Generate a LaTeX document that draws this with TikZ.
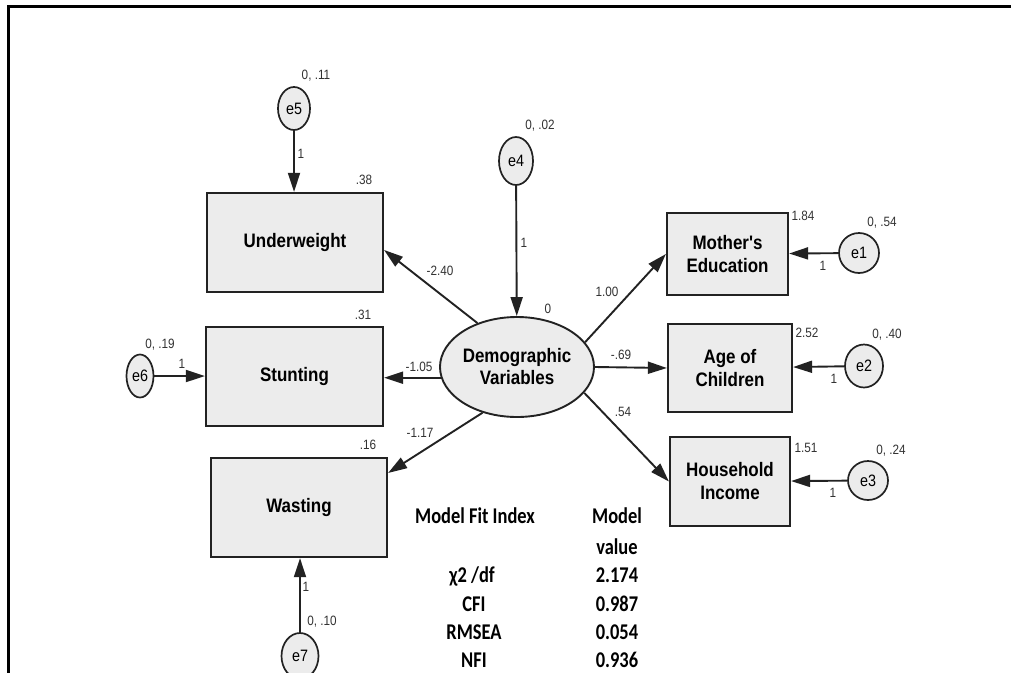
\documentclass[tikz,border=0pt]{standalone}
\usepackage{fontspec}
\setmainfont[FakeStretch=0.87, Ligatures=TeXOff]{Liberation Sans}
\newfontfamily\tabfont[FakeStretch=0.82]{Carlito}
\usetikzlibrary{arrows.meta,shapes.geometric}
\definecolor{boxfill}{HTML}{ECECEC}
\definecolor{edgecol}{HTML}{222222}
\definecolor{numcol}{HTML}{333333}
\begin{document}
\begin{tikzpicture}[x=1pt,y=-1pt,
  obs/.style={draw=edgecol, line width=2.2pt, fill=boxfill, rectangle, inner sep=0pt, align=center,
    font=\bfseries\fontsize{19.5}{23}\selectfont, text=black},
  err/.style={draw=edgecol, line width=1.7pt, fill=boxfill, ellipse, inner sep=0pt,
    font=\fontsize{16.5}{18}\selectfont, text=black},
  lat/.style={draw=edgecol, line width=1.9pt, fill=boxfill, ellipse, inner sep=0pt, align=center,
    font=\bfseries\fontsize{19.5}{22}\selectfont, text=black},
  num/.style={font=\fontsize{13.5}{15}\selectfont, text=numcol, inner sep=0pt, text height=9.7pt, text depth=0pt},
  conn/.style={draw=edgecol, line width=1.9pt, -{Triangle[length=19pt,width=12pt]}},
  tab/.style={font=\tabfont\bfseries\fontsize{22.5}{26}\selectfont, inner sep=0pt, text=black, text height=14.5pt, text depth=0pt}]
\useasboundingbox (0,0) rectangle (1011,672);
\fill[white] (0,0) rectangle (1011,672);
% frame
\draw[line width=3.5pt, line join=miter] (8.5,680) -- (8.5,6.5) -- (1015,6.5);

% observed variables
\node[obs, minimum width=176pt, minimum height=99pt] (uw) at (295,242.5) {Underweight};
\node[obs, minimum width=177pt, minimum height=99pt] (st) at (294.5,376.5) {Stunting};
\node[obs, minimum width=176pt, minimum height=99pt] (ws) at (299,507.5) {Wasting};
\node[obs, minimum width=121pt, minimum height=82pt] (me) at (727.5,254) {Mother's\\Education};
\node[obs, minimum width=124pt, minimum height=88pt] (ac) at (730,368) {Age of\\Children};
\node[obs, minimum width=120pt, minimum height=89pt] (hi) at (730,481.5) {Household\\Income};

% latent
\node[lat, minimum width=154pt, minimum height=100pt] (dv) at (517,367) {Demographic\\Variables};

% errors
\node[err, minimum width=40pt, minimum height=40pt] (e1) at (859,253) {e1};
\node[err, minimum width=38pt, minimum height=43pt] (e2) at (864,366) {e2};
\node[err, minimum width=40pt, minimum height=39pt] (e3) at (868,480.5) {e3};
\node[err, minimum width=34pt, minimum height=48pt] (e4) at (516,161) {e4};
\node[err, minimum width=32pt, minimum height=43pt] (e5) at (294,108.5) {e5};
\node[err, minimum width=27pt, minimum height=43pt] (e6) at (140,376) {e6};
\node[err, minimum width=37pt, minimum height=46pt] (e7) at (300,656) {e7};

% connectors
\draw[conn] (e5.south) -- (e5.south |- uw.north);
\draw[conn] (e6.east) -- (e6.east -| st.west);
\draw[conn] (e7.north) -- (e7.north |- ws.south);
\draw[conn] (e4) -- (dv);
\draw[conn] (e1) -- (me);
\draw[conn] (e2) -- (ac);
\draw[conn] (e3) -- (hi);
\draw[conn] (dv.132) -- ([yshift=-7.5pt]uw.east);
\draw[conn] (dv.188) -- (dv.188 -| st.east);
\draw[conn] (dv.233) -- ([yshift=34.5pt]ws.east);
\draw[conn] (dv.20) -- (me.west);
\draw[conn] (dv.east) -- (ac.west);
\draw[conn] (dv.339) -- (hi.west);

% numeric labels
\node[num] (n5) at (316,75) {0, .11};
\node[num] (w5) at (301,154) {1};
\node[num] (r1) at (364,180) {.38};
\node[num] (p1) at (440,271) {-2.40};
\node[num] (r2) at (363,315) {.31};
\node[num] (n6) at (160,344) {0, .19};
\node[num] (w6) at (182,364) {1};
\node[num] (p2) at (419,367) {-1.05};
\node[num] (p3) at (420,433) {-1.17};
\node[num] (r3) at (368,445) {.16};
\node[num] (w7) at (306,587) {1};
\node[num] (n7) at (322,621) {0, .10};
\node[num] (n4) at (540,125) {0, .02};
\node[num] (w4) at (524,243) {1};
\node[num] (m0) at (548,309) {0};
\node[num] (p4) at (607,292) {1.00};
\node[num] (p5) at (621,355) {-.69};
\node[num] (p6) at (623,412) {.54};
\node[num] (r4) at (803,216) {1.84};
\node[num] (n1) at (882,222) {0, .54};
\node[num] (w1) at (823,266) {1};
\node[num] (r5) at (807,333) {2.52};
\node[num] (n2) at (887,334) {0, .40};
\node[num] (w2) at (834,379) {1};
\node[num] (r6) at (806,448) {1.51};
\node[num] (n3) at (891,450) {0, .24};
\node[num] (w3) at (833,493) {1};

% model fit table
\node[tab] (t1) at (475,516) {Model Fit Index};
\node[tab] (t2) at (617,516) {Model};
\node[tab] (t3) at (617,547) {value};
\node[tab] (t4) at (472,575) {χ2 /df};
\node[tab] (t5) at (617,575) {2.174};
\node[tab] (t6) at (474,604) {CFI};
\node[tab] (t7) at (617,604) {0.987};
\node[tab] (t8) at (474,632.5) {RMSEA};
\node[tab] (t9) at (617,632.5) {0.054};
\node[tab] (t10) at (474,660.5) {NFI};
\node[tab] (t11) at (617,660.5) {0.936};
\end{tikzpicture}
\end{document}
